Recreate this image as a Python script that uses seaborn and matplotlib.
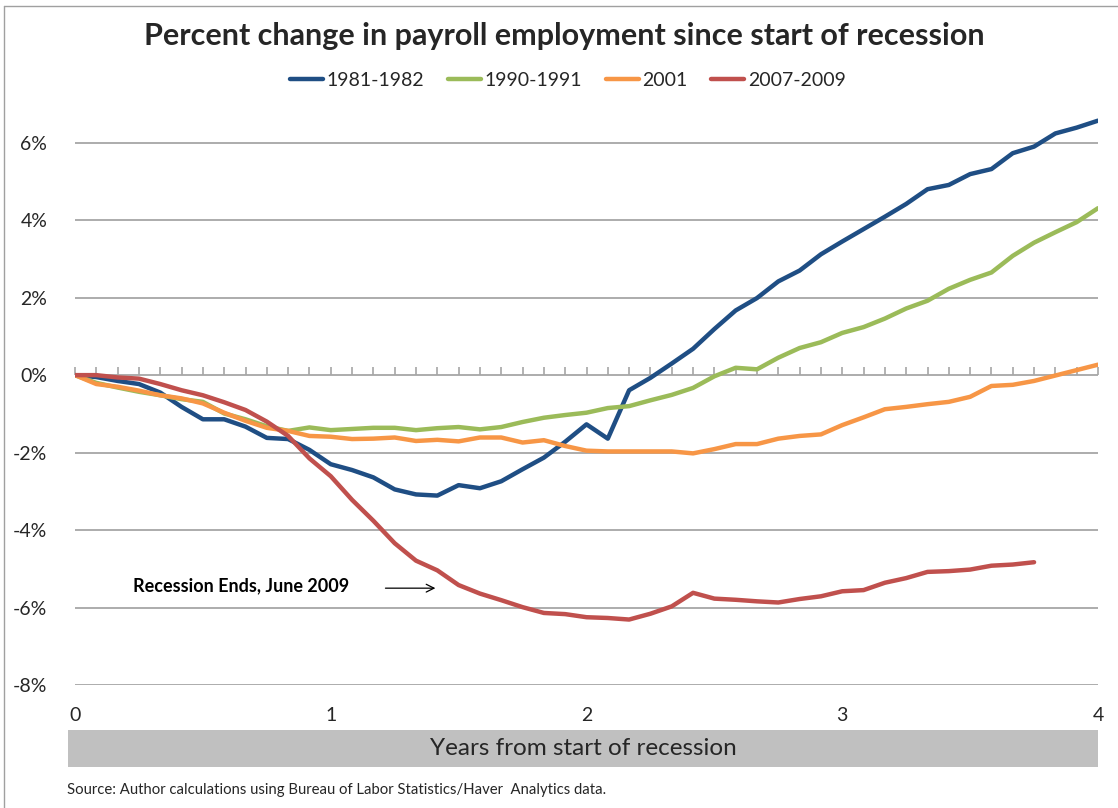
import numpy as np
import pandas as pd
import matplotlib
matplotlib.use("Agg")
import matplotlib.pyplot as plt
from matplotlib.lines import Line2D
import seaborn as sns

# Percent change in payroll employment, monthly, from the start of each recession
series_names = ["1981-1982", "1990-1991", "2001", "2007-2009"]

emp_1981 = [0.00, -0.05, -0.15, -0.23, -0.45, -0.82, -1.14, -1.14, -1.33, -1.62,
            -1.65, -1.93, -2.30, -2.45, -2.64, -2.95, -3.08, -3.11, -2.84, -2.92,
            -2.74, -2.43, -2.13, -1.72, -1.27, -1.64, -0.39, -0.07, 0.30, 0.68,
            1.19, 1.67, 1.99, 2.42, 2.70, 3.12, 3.45, 3.77, 4.09, 4.42,
            4.80, 4.91, 5.19, 5.32, 5.73, 5.90, 6.24, 6.39, 6.57]
emp_1990 = [0.00, -0.20, -0.32, -0.43, -0.52, -0.62, -0.69, -0.99, -1.14, -1.32,
            -1.44, -1.35, -1.42, -1.39, -1.36, -1.36, -1.42, -1.37, -1.34, -1.40,
            -1.34, -1.21, -1.10, -1.03, -0.97, -0.85, -0.80, -0.65, -0.51, -0.33,
            -0.03, 0.19, 0.15, 0.45, 0.70, 0.85, 1.09, 1.24, 1.46, 1.72,
            1.92, 2.23, 2.46, 2.65, 3.08, 3.42, 3.69, 3.95, 4.31]
emp_2001 = [0.00, -0.23, -0.30, -0.40, -0.52, -0.60, -0.73, -0.97, -1.18, -1.36,
            -1.44, -1.57, -1.59, -1.65, -1.64, -1.61, -1.70, -1.67, -1.71, -1.61,
            -1.61, -1.74, -1.68, -1.83, -1.95, -1.97, -1.97, -1.97, -1.97, -2.02,
            -1.91, -1.78, -1.78, -1.64, -1.57, -1.53, -1.29, -1.09, -0.88, -0.82,
            -0.75, -0.69, -0.56, -0.28, -0.25, -0.15, -0.01, 0.13, 0.27]
emp_2007 = [0.00, 0.00, -0.06, -0.09, -0.23, -0.39, -0.52, -0.70, -0.90, -1.20,
            -1.57, -2.15, -2.61, -3.22, -3.76, -4.34, -4.79, -5.04, -5.42, -5.64,
            -5.81, -5.99, -6.14, -6.17, -6.25, -6.27, -6.31, -6.16, -5.97, -5.62,
            -5.77, -5.80, -5.84, -5.87, -5.78, -5.71, -5.58, -5.55, -5.36, -5.24,
            -5.08, -5.06, -5.02, -4.92, -4.89, -4.83]

colors = ["#1F4E84", "#9BBB59", "#F79646", "#C0504D"]

y_ticks = [-8, -6, -4, -2, 0, 2, 4, 6]
y_labels = ["-8%", "-6%", "-4%", "-2%", "0%", "2%", "4%", "6%"]
x_ticks = [0, 1, 2, 3, 4]
x_labels = ["0", "1", "2", "3", "4"]

frames = []
for name, vals in zip(series_names, [emp_1981, emp_1990, emp_2001, emp_2007]):
    months = np.arange(len(vals))
    frames.append(pd.DataFrame({"years": months / 12.0, "pct": vals, "period": name}))
df = pd.concat(frames, ignore_index=True)

sns.set_style("white")
font = ["Lato", "DejaVu Sans"]
plt.rcParams["font.family"] = font

W, H = 1118, 808
fig = plt.figure(figsize=(W / 100, H / 100), dpi=100)
ax = fig.add_axes([75 / W, 1 - 685 / H, (1098 - 75) / W, (685 - 104) / H])

sns.lineplot(data=df, x="years", y="pct", hue="period", hue_order=series_names,
             palette=colors, linewidth=3.2, ax=ax, legend=False,
             solid_capstyle="round", solid_joinstyle="round", zorder=3)

ax.set_xlim(0, 4)
ax.set_ylim(-8, 7)
for s in ["top", "right", "left", "bottom"]:
    ax.spines[s].set_visible(False)

# horizontal gridlines at each labelled percent level
ax.set_yticks(y_ticks)
ax.set_yticklabels(y_labels, fontsize=14)
ax.tick_params(axis="y", length=0, pad=20)
for t in ax.get_yticklabels():
    t.set_horizontalalignment("right")
ax.yaxis.grid(True, color="#a6a6a6", linewidth=1.3, zorder=1)
ax.xaxis.grid(False)

ax.set_xticks(x_ticks)
ax.set_xticklabels(x_labels, fontsize=14)
ax.tick_params(axis="x", length=0, pad=16)
ax.set_xlabel("")
ax.set_ylabel("")

# category axis crossing at 0% with monthly tick marks
zero_loc = (0 - (-8)) / 15.0
sec = ax.secondary_xaxis(zero_loc)
sec.set_xticks(np.arange(49) / 12.0)
sec.set_xticklabels([])
sec.tick_params(axis="x", direction="out", length=6, width=1.2, color="#a6a6a6")
sec.spines["bottom"].set_color("#a6a6a6")
sec.spines["bottom"].set_linewidth(1.3)
for s in ["top", "left", "right"]:
    if s in sec.spines:
        sec.spines[s].set_visible(False)

# annotation for the end of the latest recession
ax.text(0.227, -5.45, "Recession Ends, June 2009", fontsize=13, fontweight="bold",
        va="center", ha="left", color="black", zorder=4)
ax.annotate("", xy=(1.42, -5.50), xytext=(1.203, -5.50),
            arrowprops=dict(arrowstyle="->", color="black", lw=0.9,
                            mutation_scale=14), zorder=4)

fig.text(564 / W, 1 - 36 / H,
         "Percent change in payroll employment since start of recession",
         ha="center", va="center", fontsize=22, fontweight="bold")

handles = [Line2D([0], [0], color=c, lw=3.2, solid_capstyle="round") for c in colors]
fig.legend(handles, series_names, loc="center", bbox_to_anchor=(568 / W, 1 - 80 / H),
           ncol=4, frameon=False, fontsize=14, handlelength=1.7, handletextpad=0.2,
           columnspacing=1.2)

# shaded band carrying the x axis title
band = fig.add_axes([68 / W, 1 - 767 / H, (1098 - 68) / W, (767 - 730) / H])
band.set_facecolor("#c0c0c0")
band.set_xticks([])
band.set_yticks([])
for s in band.spines.values():
    s.set_visible(False)
band.text(0.5, 0.5, "Years from start of recession", ha="center", va="center",
          fontsize=17.5, transform=band.transAxes)

fig.text(67 / W, 1 - 790 / H,
         "Source: Author calculations using Bureau of Labor Statistics/Haver  Analytics data.",
         ha="left", va="center", fontsize=10.7)

# outer frame on the left and top edges
fig.add_artist(Line2D([4 / W, 4 / W], [0, 1 - 6 / H], transform=fig.transFigure,
                      color="#a0a0a0", lw=1))
fig.add_artist(Line2D([4 / W, 1], [1 - 6 / H, 1 - 6 / H], transform=fig.transFigure,
                      color="#a0a0a0", lw=1))

fig.savefig("out.png", dpi=100, facecolor="white")
